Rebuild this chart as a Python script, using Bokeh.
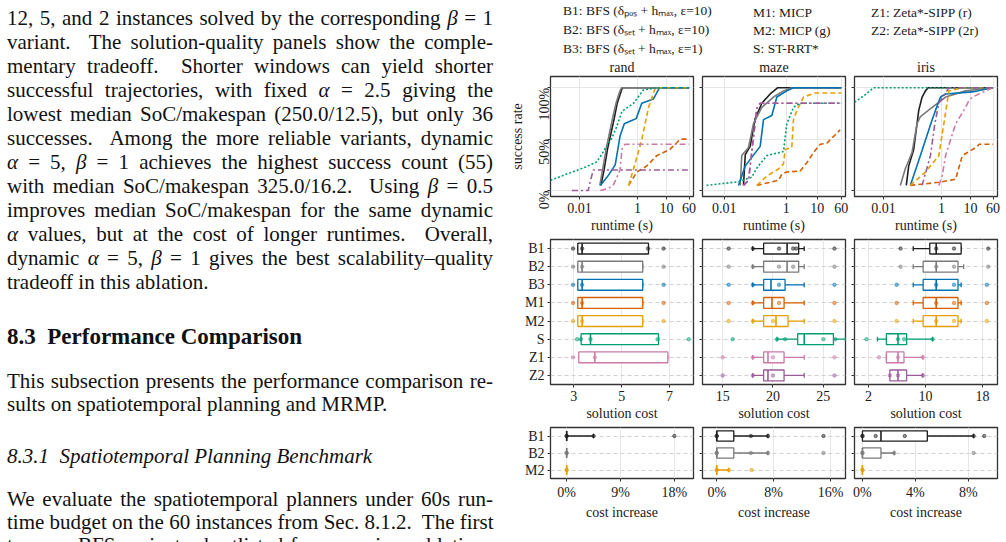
import math
from bokeh.plotting import figure
from bokeh.models import (Div, FactorRange, Range1d, FixedTicker, Legend, LegendItem,
                          ColumnDataSource, CustomJSTickFormatter)
from bokeh.layouts import row, column
from bokeh.embed import file_html
from bokeh.resources import INLINE

FONT = "Liberation Serif"
INK = "#1a1a1a"

# ---------------------------------------------------------------- methods
METHODS = ["B1", "B2", "B3", "M1", "M2", "S", "Z1", "Z2"]
METHOD_LABELS = {
    "B1": "B1: BFS (δₚₒₛ + hₘₐₓ, ε=10)",
    "B2": "B2: BFS (δₛₑₜ + hₘₐₓ, ε=10)",
    "B3": "B3: BFS (δₛₑₜ + hₘₐₓ, ε=1)",
    "M1": "M1: MICP",
    "M2": "M2: MICP (g)",
    "S": "S: ST-RRT*",
    "Z1": "Z1: Zeta*-SIPP (r)",
    "Z2": "Z2: Zeta*-SIPP (2r)",
}
COLORS = {"B1": "#1f1f1f", "B2": "#7a7a7a", "B3": "#0072B2", "M1": "#D55E00",
          "M2": "#E69F00", "S": "#009E73", "Z1": "#CC79A7", "Z2": "#9B5B9A"}
DASHES = {"B1": "solid", "B2": "solid", "B3": "solid", "M1": "5 3", "M2": "5 3",
          "S": "2 2", "Z1": "6 3 2 3", "Z2": "6 3 2 3"}

MAPS = ["rand", "maze", "iris"]

# ------------------------------------------- success rate vs runtime (s)
RAND_SUCCESS = {
    "B1": ([0.055, 0.07, 0.092, 0.12, 0.157, 0.2, 0.26, 0.3, 60],
           [0.05, 0.2, 0.4, 0.55, 0.7, 0.85, 0.95, 1.0, 1.0]),
    "B2": ([0.05, 0.064, 0.085, 0.108, 0.142, 0.185, 0.24, 0.28, 60],
           [0.05, 0.22, 0.42, 0.56, 0.72, 0.86, 0.96, 1.0, 1.0]),
    "B3": ([0.052, 0.1, 0.17, 0.25, 0.35, 0.6, 0.9, 1.4, 3.5, 5.7, 60],
           [0.05, 0.15, 0.25, 0.53, 0.65, 0.68, 0.70, 0.85, 0.89, 1.0, 1.0]),
    "M1": ([0.49, 0.95, 2.1, 4.6, 13, 30, 60],
           [0.05, 0.18, 0.24, 0.34, 0.40, 0.50, 0.50]),
    "M2": ([0.49, 0.8, 1.41, 2.4, 4.1, 60],
           [0.05, 0.25, 0.5, 0.81, 1.0, 1.0]),
    "S": ([0.001, 0.0036, 0.0137, 0.04, 0.13, 0.19, 0.29, 0.73, 1.6, 4.6, 60],
          [0.10, 0.16, 0.22, 0.28, 0.51, 0.62, 0.77, 0.85, 0.98, 1.0, 1.0]),
    "Z1": ([0.052, 0.1, 0.15, 0.25, 0.29, 0.37, 60],
           [0.0, 0.02, 0.06, 0.2, 0.4, 0.45, 0.45]),
    "Z2": ([0.0055, 0.02, 0.023, 0.03, 60],
           [0.0, 0.0, 0.08, 0.2, 0.2]),
}
MAZE_SUCCESS = {
    "B1": ([0.042, 0.048, 0.069, 0.1, 0.164, 0.305, 0.525, 60],
           [0.05, 0.35, 0.43, 0.70, 0.85, 0.94, 1.0, 1.0]),
    "B2": ([0.033, 0.037, 0.061, 0.088, 0.164, 0.39, 0.82, 1.52, 60],
           [0.05, 0.34, 0.42, 0.65, 0.81, 0.91, 0.97, 1.0, 1.0]),
    "B3": ([0.029, 0.048, 0.145, 0.186, 0.345, 0.5, 1.05, 1.72, 60],
           [0.05, 0.24, 0.43, 0.69, 0.73, 0.91, 0.97, 1.0, 1.0]),
    "M1": ([0.113, 0.566, 0.725, 1.05, 2.83, 4.64, 7.6, 12.5, 20.5, 55],
           [0.05, 0.1, 0.16, 0.18, 0.19, 0.27, 0.37, 0.45, 0.46, 0.59]),
    "M2": ([0.113, 0.238, 0.566, 0.82, 0.93, 1.52, 1.72, 2.21, 3.62, 8.6, 60],
           [0.05, 0.14, 0.21, 0.26, 0.40, 0.42, 0.69, 0.78, 0.91, 0.95, 0.95]),
    "S": ([0.0027, 0.029, 0.078, 0.113, 0.238, 0.82, 1.05, 1.72, 2.83, 60],
          [0.05, 0.086, 0.13, 0.22, 0.34, 0.38, 0.65, 0.81, 0.85, 0.85]),
    "Z1": ([0.042, 0.061, 0.113, 0.145, 60],
           [0.05, 0.1, 0.8, 0.85, 0.85]),
    "Z2": ([0.042, 0.061, 0.113, 0.145, 60],
           [0.05, 0.1, 0.8, 0.85, 0.85]),
}
IRIS_SUCCESS = {
    "B1": ([0.061, 0.074, 0.11, 0.143, 0.164, 0.214, 0.279, 0.345, 60],
           [0.05, 0.24, 0.40, 0.65, 0.78, 0.91, 0.97, 1.0, 1.0]),
    "B2": ([0.038, 0.056, 0.096, 0.143, 0.187, 0.475, 1.38, 6.8, 57, 60],
           [0.05, 0.21, 0.37, 0.65, 0.72, 0.81, 0.91, 0.97, 1.0, 1.0]),
    "B3": ([0.084, 0.187, 0.475, 0.619, 0.923, 1.38, 11.6, 57, 60],
           [0.05, 0.34, 0.69, 0.78, 0.91, 0.94, 0.96, 1.0, 1.0]),
    "M1": ([0.084, 0.808, 3.06, 5.2, 7.8, 17.3, 19.7, 60],
           [0.05, 0.08, 0.11, 0.34, 0.37, 0.43, 0.45, 0.45]),
    "M2": ([0.084, 0.279, 0.808, 1.2, 1.8, 5.2, 60],
           [0.05, 0.18, 0.34, 0.65, 0.97, 1.0, 1.0]),
    "S": ([0.001, 0.0023, 0.0045, 60],
          [0.86, 0.93, 1.0, 1.0]),
    "Z1": ([0.808, 1.05, 1.38, 3.06, 6.8, 8.9, 11.6, 57, 60],
           [0.05, 0.14, 0.34, 0.65, 0.81, 0.88, 0.91, 1.0, 1.0]),
    "Z2": ([0.214, 0.415, 0.587, 0.808, 1.8, 60],
           [0.05, 0.34, 0.65, 0.85, 1.0, 1.0]),
}
RUNTIME_RANGES = {"rand": (0.001, 85), "maze": (0.002, 82), "iris": (0.001, 85)}
RUNTIME_TICKS = [0.01, 1, 10, 60]
RATE_TICKS = [0, 0.5, 1]

# ------------------------------- solution cost: (low, q1, median, q3, high)
RAND_COST = {
    "B1": (3.17, 3.17, 3.35, 6.12, 6.12), "B2": (3.17, 3.17, 3.35, 5.88, 5.88),
    "B3": (3.17, 3.17, 3.35, 5.88, 5.88), "M1": (3.17, 3.17, 3.35, 5.88, 5.88),
    "M2": (3.17, 3.17, 3.35, 5.88, 5.88), "S": (3.31, 3.31, 3.70, 6.54, 6.54),
    "Z1": (3.21, 3.21, 3.88, 6.93, 6.93),
}
RAND_COST_PTS = {
    "B1": [2.97, 3.35, 6.1, 6.75], "B2": [2.97, 3.35, 6.75], "B3": [2.97, 3.35, 6.75],
    "M1": [2.97, 3.35, 6.75], "M2": [2.97, 3.35, 6.75], "S": [3.14, 3.3, 3.7, 6.5, 7.8],
    "Z1": [2.97, 3.88],
}
MAZE_COST = {
    "B1": (17.98, 19.07, 21.4, 22.55, 23.1), "B2": (17.98, 19.07, 21.4, 22.55, 23.1),
    "B3": (17.98, 19.07, 19.8, 21.2, 23.1), "M1": (17.98, 19.07, 19.9, 21.1, 23.1),
    "M2": (17.98, 19.07, 20.3, 21.5, 23.1), "S": (20.4, 22.45, 23.1, 26.0, 27.2),
    "Z1": (17.98, 19.07, 19.5, 21.1, 23.1), "Z2": (17.98, 19.07, 19.5, 21.1, 23.1),
}
MAZE_COST_PTS = {
    "B1": [15.6, 18.0, 20.6, 22.0, 22.3, 26.1], "B2": [15.6, 18.0, 20.6, 22.0, 26.1],
    "B3": [15.6, 18.0, 20.6, 26.1], "M1": [15.6, 18.0, 20.6, 26.1],
    "M2": [15.6, 18.0, 20.0, 26.1], "S": [16.0, 20.4, 21.2, 25.0, 26.2],
    "Z1": [15.0, 18.0, 20.0, 26.1], "Z2": [15.0, 18.0, 20.0, 26.1],
}
IRIS_COST = {
    "B1": (8.28, 10.6, 11.5, 15.0, 15.0), "B2": (8.28, 9.67, 11.5, 14.56, 15.35),
    "B3": (8.28, 9.67, 11.5, 14.56, 15.0), "M1": (8.28, 9.67, 11.5, 14.56, 15.0),
    "M2": (8.28, 9.67, 11.5, 14.56, 15.0), "S": (3.26, 4.51, 6.14, 7.35, 11.0),
    "Z1": (4.51, 4.51, 6.14, 6.98, 9.63), "Z2": (5.0, 5.0, 6.14, 7.35, 9.63),
}
IRIS_COST_PTS = {
    "B1": [6.5, 11.5, 14.0, 18.8], "B2": [6.5, 11.5, 14.0, 18.8], "B3": [5.95, 11.5, 14.0, 18.6],
    "M1": [5.95, 11.5, 14.0, 18.6], "M2": [5.95, 11.5, 14.0, 18.6], "S": [1.72, 6.14, 7.0, 11.0],
    "Z1": [3.49, 6.14, 9.63], "Z2": [5.0, 6.14, 9.63],
}
COST_RANGES = {"rand": (2.03, 8.0), "maze": (13.0, 27.2), "iris": (0.04, 20.1)}
COST_TICKS = {"rand": [3, 5, 7], "maze": [15, 20, 25], "iris": [2, 10, 18]}

# ---------------------------------------- cost increase (%) vs best solver
INC_METHODS = ["B1", "B2", "M2"]
RAND_INC = {"B1": (0, 0, 0, 0, 4.5), "B2": (0, 0, 0, 0, 0), "M2": (0, 0, 0, 0, 0)}
RAND_INC_PTS = {"B1": [0, 0, 4.5, 18.0], "B2": [0, 0], "M2": [0, 0]}
MAZE_INC = {"B1": (0, 0, 0, 2.4, 7.2), "B2": (0, 0, 0, 2.4, 7.2), "M2": (0, 0, 0, 0, 1.7)}
MAZE_INC_PTS = {"B1": [0, 0, 4.8, 7.2, 15.0], "B2": [0, 0, 4.8, 7.2, 15.0], "M2": [0, 0, 1.7, 4.9]}
IRIS_INC = {"B1": (0, 0, 1.4, 4.9, 8.4), "B2": (0, 0, 0, 1.4, 2.4), "M2": (0, 0, 0, 0, 0)}
IRIS_INC_PTS = {"B1": [0, 0, 1.0, 3.2, 8.4, 9.2], "B2": [0, 0, 2.4, 8.4], "M2": [0, 0]}
INC_RANGES = {"rand": (-2.7, 21.2), "maze": (-2.0, 18.1), "iris": (-0.6, 10.2)}
INC_TICKS = {"rand": [0, 9, 18], "maze": [0, 8, 16], "iris": [0, 4, 8]}

# ------------------------------------------------------------ page text
BODY = [
    (18, "12, 5, and 2 instances solved by the corresponding <i>β</i> = 1", "j"),
    (42, "variant.&nbsp; The solution-quality panels show the comple-", "j"),
    (66, "mentary tradeoff.&nbsp; Shorter windows can yield shorter", "j"),
    (90, "successful trajectories, with fixed <i>α</i> = 2.5 giving the", "j"),
    (114, "lowest median SoC/makespan (250.0/12.5), but only 36", "j"),
    (138, "successes.&nbsp; Among the more reliable variants, dynamic", "j"),
    (162, "<i>α</i> = 5, <i>β</i> = 1 achieves the highest success count (55)", "j"),
    (186, "with median SoC/makespan 325.0/16.2.&nbsp; Using <i>β</i> = 0.5", "j"),
    (210, "improves median SoC/makespan for the same dynamic", "j"),
    (234, "<i>α</i> values, but at the cost of longer runtimes.&nbsp; Overall,", "j"),
    (258, "dynamic <i>α</i> = 5, <i>β</i> = 1 gives the best scalability–quality", "j"),
    (282, "tradeoff in this ablation.", "l"),
    (337, "<b style='font-size:23px'>8.3&nbsp; Performance Comparison</b>", "l"),
    (381, "This subsection presents the performance comparison re-", "j"),
    (404, "sults on spatiotemporal planning and MRMP.", "l"),
    (456, "<i>8.3.1&nbsp; Spatiotemporal Planning Benchmark</i>", "l"),
    (499, "We evaluate the spatiotemporal planners under 60s run-", "j"),
    (522, "time budget on the 60 instances from Sec. 8.1.2.&nbsp; The first", "j"),
    (545, "two are BFS variants shortlisted from previous ablations", "j"),
]


def text_column():
    parts = []
    for cy, txt, mode in BODY:
        last = "justify" if mode == "j" else "left"
        parts.append(
            f"<div style='position:absolute;left:7px;width:486px;top:{cy - 12}px;"
            f"height:24px;line-height:24px;white-space:nowrap;text-align:justify;"
            f"text-align-last:{last};'>{txt}</div>")
    html = ("<div style=\"position:relative;width:500px;height:542px;overflow:hidden;"
            f"font-family:'{FONT}';font-size:21px;color:#111;\">" + "".join(parts) + "</div>")
    return Div(text=html, width=500, height=542, margin=(0, 0, 0, 0))


# --------------------------------------------------------------- helpers
FRAME_W = 143
BLANK = "return '';"


def make_fig(i, height, top, **kw):
    left = 50 if i == 0 else 5
    p = figure(width=left + FRAME_W + 4, height=height, min_border_left=left,
               min_border_right=4, min_border_top=top, min_border_bottom=40,
               toolbar_location=None, output_backend="svg", **kw)
    p.border_fill_color = "white"
    p.outline_line_color = "#333333"
    p.outline_line_width = 1.3
    for ax in p.axis:
        ax.axis_line_color = None
        ax.major_tick_line_color = "#333333"
        ax.major_tick_out = 3
        ax.major_tick_in = 0
        ax.minor_tick_line_color = None
        ax.major_label_text_font = FONT
        ax.major_label_text_font_size = "14px"
        ax.major_label_text_color = INK
        ax.axis_label_text_font = FONT
        ax.axis_label_text_font_size = "14px"
        ax.axis_label_text_font_style = "normal"
        ax.axis_label_text_color = INK
        ax.major_label_standoff = 3
        ax.axis_label_standoff = 2
    return p


def success_panel(i, name, curves):
    p = make_fig(i, 181, 20, x_axis_type="log", x_range=Range1d(*RUNTIME_RANGES[name]),
                 y_range=Range1d(-0.058, 1.11), title=name)
    p.title.align = "center"
    p.title.text_font = FONT
    p.title.text_font_size = "14px"
    p.title.text_font_style = "normal"
    p.title.text_color = INK
    p.title.standoff = 4
    xt = FixedTicker(ticks=RUNTIME_TICKS)
    yt = FixedTicker(ticks=RATE_TICKS)
    p.xaxis.ticker = xt
    p.xgrid.ticker = xt
    p.yaxis.ticker = yt
    p.ygrid.ticker = yt
    p.xaxis.formatter = CustomJSTickFormatter(code="return String(tick);")
    p.xaxis.axis_label = "runtime (s)"
    if i == 0:
        p.yaxis.formatter = CustomJSTickFormatter(code="return Math.round(tick*100) + '%';")
        p.yaxis.axis_label = "success rate"
        p.yaxis.major_label_orientation = math.pi / 2
    else:
        p.yaxis.formatter = CustomJSTickFormatter(code=BLANK)
        p.yaxis.major_label_standoff = 0
    p.grid.grid_line_color = "#e6e6e6"
    for m in METHODS:
        t, r = curves[m]
        p.line(t, r, line_color=COLORS[m], line_dash=DASHES[m], line_width=1.6)
    return p


def box_panel(i, name, cats, stats, pts, xr, ticks, fmt, xlabel, height):
    p = make_fig(i, height, 3, x_range=Range1d(*xr),
                 y_range=FactorRange(factors=cats[::-1], range_padding=0))
    xt = FixedTicker(ticks=ticks)
    p.xaxis.ticker = xt
    p.xgrid.ticker = xt
    if fmt:
        p.xaxis.formatter = CustomJSTickFormatter(code=fmt)
    p.xaxis.axis_label = xlabel
    p.xgrid.grid_line_color = "#e6e6e6"
    p.ygrid.grid_line_color = "#d0d0d0"
    p.ygrid.grid_line_dash = "4 3"
    if i > 0:
        p.yaxis.formatter = CustomJSTickFormatter(code=BLANK)
        p.yaxis.major_label_standoff = 0

    present = [m for m in cats if m in stats]
    src = ColumnDataSource(dict(
        y=present,
        lo=[stats[m][0] for m in present], q1=[stats[m][1] for m in present],
        med=[stats[m][2] for m in present], q3=[stats[m][3] for m in present],
        hi=[stats[m][4] for m in present],
        color=[COLORS[m] for m in present],
        ylo=[(m, -0.3) for m in present], yhi=[(m, 0.3) for m in present],
        clo=[(m, -0.13) for m in present], chi=[(m, 0.13) for m in present],
    ))
    p.segment(x0="lo", x1="q1", y0="y", y1="y", line_color="color", line_width=1.3, source=src)
    p.segment(x0="q3", x1="hi", y0="y", y1="y", line_color="color", line_width=1.3, source=src)
    p.segment(x0="lo", x1="lo", y0="clo", y1="chi", line_color="color", line_width=1.3, source=src)
    p.segment(x0="hi", x1="hi", y0="clo", y1="chi", line_color="color", line_width=1.3, source=src)
    p.hbar(y="y", left="q1", right="q3", height=0.6, fill_color="white",
           line_color="color", line_width=1.3, source=src)
    p.segment(x0="med", x1="med", y0="ylo", y1="yhi", line_color="color", line_width=1.6, source=src)

    px, py, pc = [], [], []
    for m in cats:
        for v in pts.get(m, []):
            px.append(v)
            py.append(m)
            pc.append(COLORS[m])
    p.scatter(x=px, y=py, marker="circle", size=3.5, fill_color=pc, line_color=pc,
              fill_alpha=0.5, line_alpha=0.5)
    return p


def legend_strip():
    p = figure(width=506, height=55, x_range=Range1d(0, 1), y_range=Range1d(0, 1),
               min_border=0, toolbar_location=None, output_backend="svg")
    p.outline_line_color = None
    p.axis.visible = False
    p.grid.visible = False
    rends = {m: p.line([], [], line_color=COLORS[m], line_dash=DASHES[m], line_width=1.6)
             for m in METHODS}
    groups = [(["B1", "B2", "B3"], 32), (["M1", "M2", "S"], 222), (["Z1", "Z2"], 340)]
    for members, x0 in groups:
        items = [LegendItem(label=METHOD_LABELS[m], renderers=[rends[m]]) for m in members]
        y0 = 55 - 4 - 3 * 17 - 2 * 1 + (17 + 1) * (3 - len(members))
        leg = Legend(items=items, location=(x0, y0), orientation="vertical",
                     padding=0, margin=0, spacing=1, glyph_width=23, glyph_height=17,
                     label_height=17, label_standoff=8, border_line_color=None,
                     background_fill_alpha=0, label_text_font=FONT,
                     label_text_font_size="13.5px", label_text_color=INK)
        p.add_layout(leg)
    return p


success_data = {"rand": RAND_SUCCESS, "maze": MAZE_SUCCESS, "iris": IRIS_SUCCESS}
cost_data = {"rand": (RAND_COST, RAND_COST_PTS), "maze": (MAZE_COST, MAZE_COST_PTS),
             "iris": (IRIS_COST, IRIS_COST_PTS)}
inc_data = {"rand": (RAND_INC, RAND_INC_PTS), "maze": (MAZE_INC, MAZE_INC_PTS),
            "iris": (IRIS_INC, IRIS_INC_PTS)}

row1 = row([success_panel(i, n, success_data[n]) for i, n in enumerate(MAPS)], spacing=0)
row2 = row([box_panel(i, n, METHODS, cost_data[n][0], cost_data[n][1], COST_RANGES[n],
                      COST_TICKS[n], None, "solution cost", 188)
            for i, n in enumerate(MAPS)], spacing=0)
row3 = row([box_panel(i, n, INC_METHODS, inc_data[n][0], inc_data[n][1], INC_RANGES[n],
                      INC_TICKS[n], "return tick + '%';", "cost increase", 98)
            for i, n in enumerate(MAPS)], spacing=0)

right = column([legend_strip(), row1, row2, row3], spacing=0)
page = row([text_column(), right], spacing=0)

open("out.html", "w").write(file_html(page, INLINE))
